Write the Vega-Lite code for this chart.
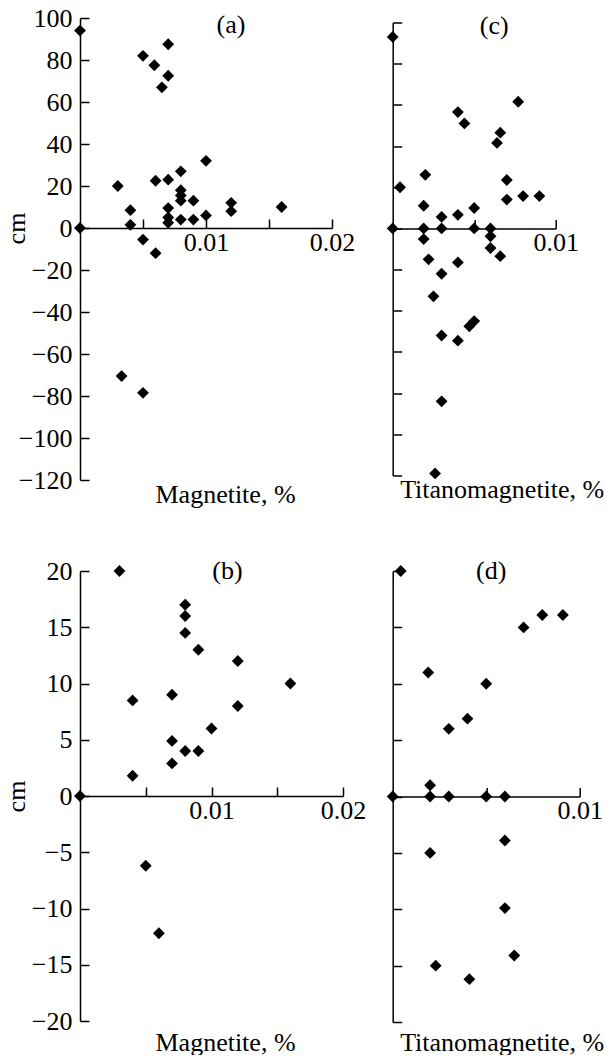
{
  "$schema": "https://vega.github.io/schema/vega-lite/v6.json",
  "padding": {"left": 3, "top": 5, "right": 0, "bottom": 0},
  "background": "white",
  "config": {
    "font": "Liberation Serif",
    "view": {"stroke": null},
    "axis": {"labelFont": "Liberation Serif", "titleFont": "Liberation Serif", "labelFontSize": 26, "titleFontSize": 26, "labelColor": "#000", "titleColor": "#000", "titleFontWeight": "normal", "domainColor": "#000", "tickColor": "#000", "domainWidth": 1.5, "tickWidth": 1.5, "grid": false, "labelFlush": false, "labelOverlap": false, "labelBound": false},
    "title": {"font": "Liberation Serif", "fontSize": 26, "fontWeight": "normal", "color": "#000", "baseline": "alphabetic"}
  },
  "datasets": {
    "a": [
      {"x": 0, "y": 94}, {"x": 0, "y": 0}, {"x": 0.003, "y": 20}, {"x": 0.004, "y": 8.5}, {"x": 0.004, "y": 1.5},
      {"x": 0.005, "y": 82}, {"x": 0.0059, "y": 77.5}, {"x": 0.0065, "y": 67}, {"x": 0.007, "y": 87.5}, {"x": 0.007, "y": 72.5},
      {"x": 0.006, "y": 22.5}, {"x": 0.007, "y": 23}, {"x": 0.008, "y": 27}, {"x": 0.008, "y": 18}, {"x": 0.008, "y": 15.5},
      {"x": 0.008, "y": 13}, {"x": 0.008, "y": 4}, {"x": 0.007, "y": 9.5}, {"x": 0.007, "y": 5}, {"x": 0.007, "y": 2.5},
      {"x": 0.009, "y": 13}, {"x": 0.009, "y": 4}, {"x": 0.01, "y": 32}, {"x": 0.01, "y": 6}, {"x": 0.012, "y": 12},
      {"x": 0.012, "y": 8}, {"x": 0.016, "y": 10}, {"x": 0.005, "y": -5.5}, {"x": 0.006, "y": -12}, {"x": 0.0033, "y": -70.5},
      {"x": 0.005, "y": -78.5}
    ],
    "b": [
      {"x": 0, "y": 0}, {"x": 0.003, "y": 20}, {"x": 0.004, "y": 8.5}, {"x": 0.004, "y": 1.8}, {"x": 0.007, "y": 9},
      {"x": 0.007, "y": 4.9}, {"x": 0.007, "y": 2.9}, {"x": 0.008, "y": 17}, {"x": 0.008, "y": 16}, {"x": 0.008, "y": 14.5},
      {"x": 0.008, "y": 4}, {"x": 0.009, "y": 13}, {"x": 0.009, "y": 4}, {"x": 0.01, "y": 6}, {"x": 0.012, "y": 12},
      {"x": 0.012, "y": 8}, {"x": 0.016, "y": 10}, {"x": 0.005, "y": -6.2}, {"x": 0.006, "y": -12.2}
    ],
    "c": [
      {"x": 0, "y": 93}, {"x": 0, "y": 0}, {"x": 0.00045, "y": 20}, {"x": 0.002, "y": 26}, {"x": 0.0019, "y": 11},
      {"x": 0.0019, "y": 0}, {"x": 0.0019, "y": -5.2}, {"x": 0.003, "y": 5.6}, {"x": 0.003, "y": 0}, {"x": 0.004, "y": 56.5},
      {"x": 0.0044, "y": 51}, {"x": 0.004, "y": 6.6}, {"x": 0.005, "y": 9.9}, {"x": 0.005, "y": 0}, {"x": 0.006, "y": 0},
      {"x": 0.006, "y": -3.8}, {"x": 0.006, "y": -9.5}, {"x": 0.0066, "y": -13.5}, {"x": 0.004, "y": -16.5}, {"x": 0.0022, "y": -15},
      {"x": 0.003, "y": -22}, {"x": 0.0025, "y": -33}, {"x": 0.003, "y": -52}, {"x": 0.004, "y": -54.5}, {"x": 0.0047, "y": -47.5},
      {"x": 0.005, "y": -45}, {"x": 0.003, "y": -84}, {"x": 0.0026, "y": -119}, {"x": 0.0066, "y": 46.5}, {"x": 0.0064, "y": 41.5},
      {"x": 0.0077, "y": 61.5}, {"x": 0.007, "y": 23.5}, {"x": 0.007, "y": 14}, {"x": 0.008, "y": 15.7}, {"x": 0.009, "y": 15.7}
    ],
    "d": [
      {"x": 0, "y": 0}, {"x": 0.00043, "y": 20}, {"x": 0.0019, "y": 11}, {"x": 0.003, "y": 6}, {"x": 0.004, "y": 6.9},
      {"x": 0.005, "y": 10}, {"x": 0.007, "y": 15}, {"x": 0.008, "y": 16.1}, {"x": 0.0091, "y": 16.1}, {"x": 0.002, "y": 1},
      {"x": 0.002, "y": 0}, {"x": 0.003, "y": 0}, {"x": 0.005, "y": 0}, {"x": 0.006, "y": 0}, {"x": 0.002, "y": -5},
      {"x": 0.006, "y": -3.9}, {"x": 0.006, "y": -9.9}, {"x": 0.0065, "y": -14.1}, {"x": 0.0023, "y": -15}, {"x": 0.0041, "y": -16.2}
    ]
  },
  "columns": 2,
  "bounds": "flush",
  "spacing": {"row": 91, "column": 49.7},
  "center": {"row": true, "column": false},
  "concat": [
    {
      "width": 252, "height": 462,
      "title": {"text": "(a)", "offset": -33, "dx": 25},
      "data": {"name": "a"},
      "resolve": {"axis": {"x": "independent"}},
      "layer": [
        {
          "mark": {"type": "point", "shape": "diamond", "filled": true, "color": "#000", "size": 140, "opacity": 1},
          "encoding": {
            "x": {"field": "x", "type": "quantitative", "scale": {"domain": [0, 0.02], "nice": false, "zero": false},
              "axis": {"orient": "bottom", "offset": -252, "values": [0.005, 0.01, 0.015, 0.02], "format": ".2f", "labelExpr": "(datum.value == 0.01 || datum.value == 0.02) ? datum.label : ''", "tickSize": -9, "labelPadding": 10, "title": null}},
            "y": {"field": "y", "type": "quantitative", "scale": {"domain": [-120, 100], "nice": false},
              "axis": {"values": [-120, -100, -80, -60, -40, -20, 0, 20, 40, 60, 80, 100], "tickSize": -9, "labelPadding": 17, "title": "cm", "titlePadding": -11, "titleY": 210}}
          }
        },
        {
          "mark": {"type": "point", "opacity": 0},
          "encoding": {
            "x": {"field": "x", "type": "quantitative", "axis": {"orient": "bottom", "title": "Magnetite, %", "domain": false, "ticks": false, "labels": false, "titlePadding": 1, "titleX": 145}}
          }
        }
      ]
    },
    {
      "width": 163, "height": 453,
      "title": {"text": "(c)", "offset": -17, "dx": 20},
      "data": {"name": "c"},
      "resolve": {"axis": {"x": "independent"}},
      "layer": [
        {
          "mark": {"type": "point", "shape": "diamond", "filled": true, "color": "#000", "size": 140, "opacity": 1},
          "encoding": {
            "x": {"field": "x", "type": "quantitative", "scale": {"domain": [0, 0.01], "nice": false, "zero": false},
              "axis": {"orient": "bottom", "offset": -247, "values": [0.005, 0.01], "format": ".2f", "labelExpr": "datum.value == 0.01 ? datum.label : ''", "tickSize": -9, "labelPadding": 10, "title": null}},
            "y": {"field": "y", "type": "quantitative", "scale": {"domain": [-120, 100], "nice": false},
              "axis": {"values": [-120, -100, -80, -60, -40, -20, 0, 20, 40, 60, 80, 100], "tickSize": -9, "labels": false, "title": null}}
          }
        },
        {
          "mark": {"type": "point", "opacity": 0},
          "encoding": {
            "x": {"field": "x", "type": "quantitative", "axis": {"orient": "bottom", "title": "Titanomagnetite, %", "domain": false, "ticks": false, "labels": false, "titlePadding": 1, "titleX": 109}}
          }
        }
      ]
    },
    {
      "width": 263, "height": 450,
      "title": {"text": "(b)", "offset": -26, "dx": 16},
      "data": {"name": "b"},
      "resolve": {"axis": {"x": "independent"}},
      "layer": [
        {
          "mark": {"type": "point", "shape": "diamond", "filled": true, "color": "#000", "size": 140, "opacity": 1},
          "encoding": {
            "x": {"field": "x", "type": "quantitative", "scale": {"domain": [0, 0.02], "nice": false, "zero": false},
              "axis": {"orient": "bottom", "offset": -225, "values": [0.005, 0.01, 0.015, 0.02], "format": ".2f", "labelExpr": "(datum.value == 0.01 || datum.value == 0.02) ? datum.label : ''", "tickSize": -9, "labelPadding": 10, "title": null}},
            "y": {"field": "y", "type": "quantitative", "scale": {"domain": [-20, 20], "nice": false},
              "axis": {"values": [-20, -15, -10, -5, 0, 5, 10, 15, 20], "tickSize": -9, "labelPadding": 17, "title": "cm", "titlePadding": 2}}
          }
        },
        {
          "mark": {"type": "point", "opacity": 0},
          "encoding": {
            "x": {"field": "x", "type": "quantitative", "axis": {"orient": "bottom", "title": "Magnetite, %", "domain": false, "ticks": false, "labels": false, "titlePadding": 8, "titleX": 145}}
          }
        }
      ]
    },
    {
      "width": 187, "height": 451,
      "title": {"text": "(d)", "offset": -19, "dx": 5},
      "data": {"name": "d"},
      "resolve": {"axis": {"x": "independent"}},
      "layer": [
        {
          "mark": {"type": "point", "shape": "diamond", "filled": true, "color": "#000", "size": 140, "opacity": 1},
          "encoding": {
            "x": {"field": "x", "type": "quantitative", "scale": {"domain": [0, 0.01], "nice": false, "zero": false},
              "axis": {"orient": "bottom", "offset": -225.5, "values": [0.005, 0.01], "format": ".2f", "labelExpr": "datum.value == 0.01 ? datum.label : ''", "tickSize": -9, "labelPadding": 10, "title": null}},
            "y": {"field": "y", "type": "quantitative", "scale": {"domain": [-20, 20], "nice": false},
              "axis": {"values": [-20, -15, -10, -5, 0, 5, 10, 15, 20], "tickSize": -9, "labels": false, "title": null}}
          }
        },
        {
          "mark": {"type": "point", "opacity": 0},
          "encoding": {
            "x": {"field": "x", "type": "quantitative", "axis": {"orient": "bottom", "title": "Titanomagnetite, %", "domain": false, "ticks": false, "labels": false, "titlePadding": 7, "titleX": 109}}
          }
        }
      ]
    }
  ]
}
